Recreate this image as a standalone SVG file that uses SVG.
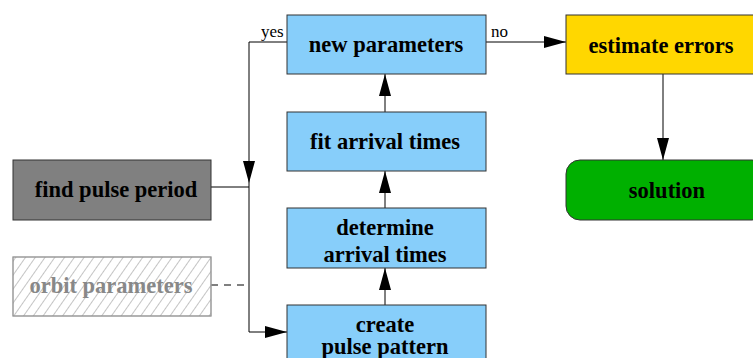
<svg xmlns="http://www.w3.org/2000/svg" width="753" height="358" viewBox="0 0 753 358">
<style>
.box{stroke:#333;stroke-width:1}
.blue{fill:#87cefa}
.t{font-family:"Liberation Serif","Times New Roman",serif;font-weight:bold;font-size:22.5px;text-anchor:middle;fill:#000}
.lbl{font-family:"Liberation Serif","Times New Roman",serif;font-size:17px;fill:#000}
.c{fill:none;stroke:#000;stroke-width:1}
</style>
<defs>
<marker id="ah" markerWidth="22" markerHeight="12" refX="22" refY="6" orient="auto" markerUnits="userSpaceOnUse">
<path d="M0,0 L22,6 L0,12 Z" fill="#000"/>
</marker>
<pattern id="hatch" width="8" height="8" patternUnits="userSpaceOnUse" patternTransform="rotate(35)">
<line x1="0" y1="0" x2="0" y2="8" stroke="#8a8a8a" stroke-width="1"/>
</pattern>
</defs>
<g id="connectors">
<path class="c" d="M287,42 H249 V183" marker-end="url(#ah)"/>
<path class="c" d="M249,183 V332 H287" marker-end="url(#ah)"/>
<path class="c" d="M211,187 H249"/>
<path class="c" d="M211,285 H249" stroke-dasharray="7,6"/>
<path class="c" d="M486,42 H566" marker-end="url(#ah)"/>
<path class="c" d="M385,305 V268" marker-end="url(#ah)"/>
<path class="c" d="M385,208 V171" marker-end="url(#ah)"/>
<path class="c" d="M385,112 V74" marker-end="url(#ah)"/>
<path class="c" d="M663,74 V160" stroke="#777" marker-end="url(#ah)"/>
<text class="lbl" x="261" y="37">yes</text>
<text class="lbl" x="491" y="37">no</text>
</g>
<g id="new-parameters">
<rect class="box blue" x="287" y="15" width="199" height="59"/>
<text class="t" x="386" y="52">new parameters</text>
</g>
<g id="fit-arrival-times">
<rect class="box blue" x="287" y="112" width="199" height="59"/>
<text class="t" x="385" y="149">fit arrival times</text>
</g>
<g id="determine-arrival-times">
<rect class="box blue" x="287" y="208" width="199" height="60"/>
<text class="t" x="385" y="235">determine</text>
<text class="t" x="385" y="262">arrival times</text>
</g>
<g id="create-pulse-pattern">
<rect class="box blue" x="287" y="305" width="199" height="60"/>
<text class="t" x="385" y="332">create</text>
<text class="t" x="385" y="354">pulse pattern</text>
</g>
<g id="find-pulse-period">
<rect class="box" fill="#808080" x="13" y="160" width="198" height="60"/>
<text class="t" x="116" y="197">find pulse period</text>
</g>
<g id="orbit-parameters">
<rect x="13" y="257" width="198" height="59" fill="#fff" stroke="#999"/>
<rect x="13" y="257" width="198" height="59" fill="url(#hatch)" stroke="#999"/>
<text class="t" x="111" y="293" style="fill:#888">orbit parameters</text>
</g>
<g id="estimate-errors">
<rect class="box" fill="#ffd700" x="566" y="15" width="200" height="59"/>
<text class="t" x="661" y="53">estimate errors</text>
</g>
<g id="solution">
<rect class="box" fill="#00b000" x="566" y="160" width="200" height="60" rx="14" ry="14"/>
<text class="t" x="667" y="198">solution</text>
</g>
</svg>
